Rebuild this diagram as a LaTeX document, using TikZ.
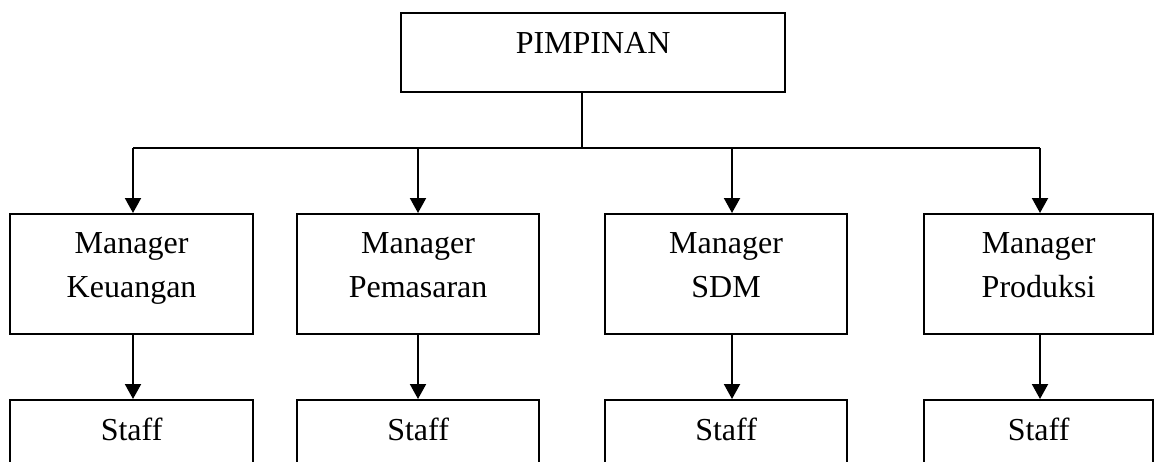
\documentclass[tikz,border=0pt]{standalone}
\usepackage{fontspec}
\setmainfont{Liberation Serif}
\usetikzlibrary{arrows.meta}
\tikzset{
  box/.style={draw=black, line width=2.2pt, rectangle, anchor=north west, inner sep=0pt},
  txt/.style={font=\fontsize{32}{38}\selectfont, inner sep=0pt, anchor=base},
  conn/.style={draw=black, line width=2pt},
  arr/.style={conn, -{Triangle[width=16pt,length=15pt]}}
}
\begin{document}
\begin{tikzpicture}[x=1pt,y=-1pt]
\clip (0,0) rectangle (1154,461);
\fill[white] (0,0) rectangle (1154,461);
% top box
\node[box, minimum width=384pt, minimum height=79pt] (pim) at (400,12) {};
\node[txt] (pimt) at ([yshift=-41pt]pim.north) {PIMPINAN};
% manager boxes
\node[box, minimum width=243pt, minimum height=120pt] (m1) at (9,213) {};
\node[box, minimum width=242pt, minimum height=120pt] (m2) at (296,213) {};
\node[box, minimum width=242pt, minimum height=120pt] (m3) at (604,213) {};
\node[box, minimum width=229pt, minimum height=120pt] (m4) at (923,213) {};
% staff boxes (cut by the lower edge)
\node[box, minimum width=243pt, minimum height=100pt] (s1) at (9,399) {};
\node[box, minimum width=242pt, minimum height=100pt] (s2) at (296,399) {};
\node[box, minimum width=242pt, minimum height=100pt] (s3) at (604,399) {};
\node[box, minimum width=229pt, minimum height=100pt] (s4) at (923,399) {};
% texts
\node[txt] (m1a) at ([yshift=-40pt]m1.north) {Manager};
\node[txt] (m1b) at ([yshift=-84pt]m1.north) {Keuangan};
\node[txt] (m2a) at ([yshift=-40pt]m2.north) {Manager};
\node[txt] (m2b) at ([yshift=-84pt]m2.north) {Pemasaran};
\node[txt] (m3a) at ([yshift=-40pt]m3.north) {Manager};
\node[txt] (m3b) at ([yshift=-84pt]m3.north) {SDM};
\node[txt] (m4a) at ([yshift=-40pt]m4.north) {Manager};
\node[txt] (m4b) at ([yshift=-84pt]m4.north) {Produksi};
\node[txt] (s1t) at ([yshift=-41pt]s1.north) {Staff};
\node[txt] (s2t) at ([yshift=-41pt]s2.north) {Staff};
\node[txt] (s3t) at ([yshift=-41pt]s3.north) {Staff};
\node[txt] (s4t) at ([yshift=-41pt]s4.north) {Staff};
% bus
\coordinate (top) at (582,148);
\coordinate (b1) at (133,148);
\coordinate (b2) at (418,148);
\coordinate (b3) at (732,148);
\coordinate (b4) at (1040,148);
\draw[conn] (top |- pim.south) -- (top);
\draw[conn] (b1) -- (b4);
\draw[arr] (b1) -- (b1 |- m1.north);
\draw[arr] (b2) -- (b2 |- m2.north);
\draw[arr] (b3) -- (b3 |- m3.north);
\draw[arr] (b4) -- (b4 |- m4.north);
\draw[arr] (b1 |- m1.south) -- (b1 |- s1.north);
\draw[arr] (b2 |- m2.south) -- (b2 |- s2.north);
\draw[arr] (b3 |- m3.south) -- (b3 |- s3.north);
\draw[arr] (b4 |- m4.south) -- (b4 |- s4.north);
\end{tikzpicture}
\end{document}
